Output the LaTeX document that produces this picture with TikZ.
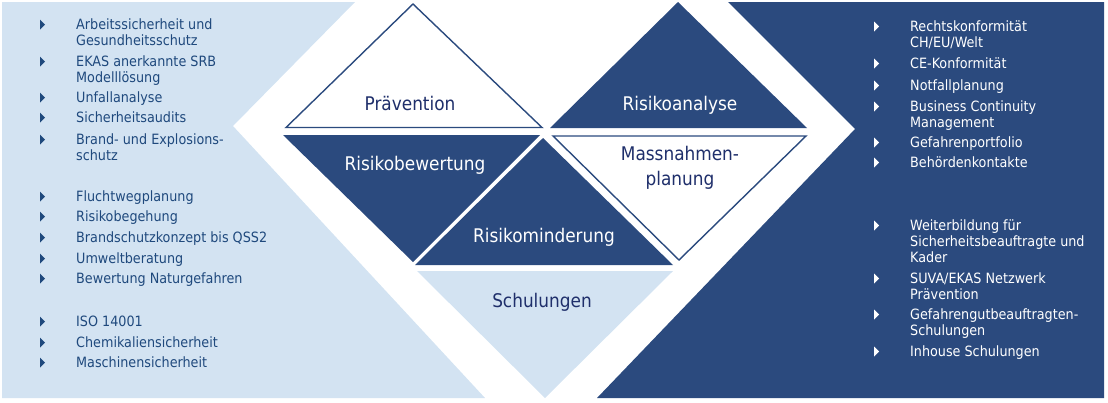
\documentclass[tikz,border=0pt]{standalone}
\usepackage{fontspec}
\IfFontExistsTF{DejaVu Sans Condensed}{\setmainfont{DejaVu Sans Condensed}}{\setmainfont{PT Sans}}
\definecolor{dkblue}{HTML}{2B4A7E}
\definecolor{ltblue}{HTML}{D3E3F2}
\definecolor{txtblue}{HTML}{1F497D}
\definecolor{navy}{HTML}{1F2F6B}
\begin{document}
\begin{tikzpicture}[x=1pt,y=-1pt,
  listtxt/.style={anchor=north west,inner sep=0pt,align=left,font=\fontsize{14.2}{15.8}\selectfont},
  lefttxt/.style={listtxt,text=txtblue},
  righttxt/.style={listtxt,text=white},
  dlabel/.style={inner sep=0pt,align=center,font=\fontsize{18.8}{25}\selectfont},
  outline/.style={draw=dkblue,line width=1.4pt,fill=white}]
\useasboundingbox (0,0) rectangle (1108,402);
% panels
\fill[ltblue] (2,2) -- (355,2) -- (233,126) -- (485,398) -- (2,398) -- cycle;
\fill[dkblue] (728,2) -- (1104,2) -- (1104,398) -- (597,398) -- (855,129) -- cycle;
% diamond triangles
\draw[outline] (413,4) -- (542,127.5) -- (286,127.5) -- cycle;
\fill[dkblue] (678,2) -- (807,128) -- (550,128) -- cycle;
\fill[dkblue] (283,135) -- (540,135) -- (413,262) -- cycle;
\draw[outline] (553,136) -- (806,136) -- (679,260) -- cycle;
\fill[dkblue] (543,138) -- (673,265) -- (415,265) -- cycle;
\fill[ltblue] (417,271) -- (673,271) -- (545,398) -- cycle;
% diamond labels
\node[dlabel,text=navy] (praev) at (410,103) {Prävention};
\node[dlabel,text=white] (ranalyse) at (680,105) {Risikoanalyse};
\node[dlabel,text=white] (rbewert) at (415,165) {Risikobewertung};
\node[dlabel,text=navy] (mplan) at (680,168) {Massnahmen-\\planung};
\node[dlabel,text=white] (rminder) at (544,237) {Risikominderung};
\node[dlabel,text=navy] (schul) at (542,302) {Schulungen};
% left list
\foreach \y/\t [count=\i] in {
  25/{Arbeitssicherheit und\\Gesundheitsschutz},
  62/{EKAS anerkannte SRB\\Modelllösung},
  98/{Unfallanalyse},
  118/{Sicherheitsaudits},
  140/{Brand- und Explosions-\\schutz},
  197/{Fluchtwegplanung},
  217/{Risikobegehung},
  238/{Brandschutzkonzept bis QSS2},
  259/{Umweltberatung},
  279/{Bewertung Naturgefahren},
  322/{ISO 14001},
  343/{Chemikaliensicherheit},
  363/{Maschinensicherheit}}{
  \fill[txtblue] (40,\y-5.5) -- (45,\y-0.5) -- (40,\y+4.5) -- cycle;
  \node[lefttxt] (l\i) at (76,\y-6.5) {\t};
}
% right list
\foreach \y/\t [count=\i] in {
  27/{Rechtskonformität\\CH/EU/Welt},
  64/{CE-Konformität},
  86/{Notfallplanung},
  107/{Business Continuity\\Management},
  143/{Gefahrenportfolio},
  163/{Behördenkontakte},
  226/{Weiterbildung für\\Sicherheitsbeauftragte und\\Kader},
  279/{SUVA/EKAS Netzwerk\\Prävention},
  315/{Gefahrengutbeauftragten-\\Schulungen},
  352/{Inhouse Schulungen}}{
  \fill[white] (874,\y-5.5) -- (879,\y-0.5) -- (874,\y+4.5) -- cycle;
  \node[righttxt] (r\i) at (910,\y-6.5) {\t};
}
\end{tikzpicture}
\end{document}
